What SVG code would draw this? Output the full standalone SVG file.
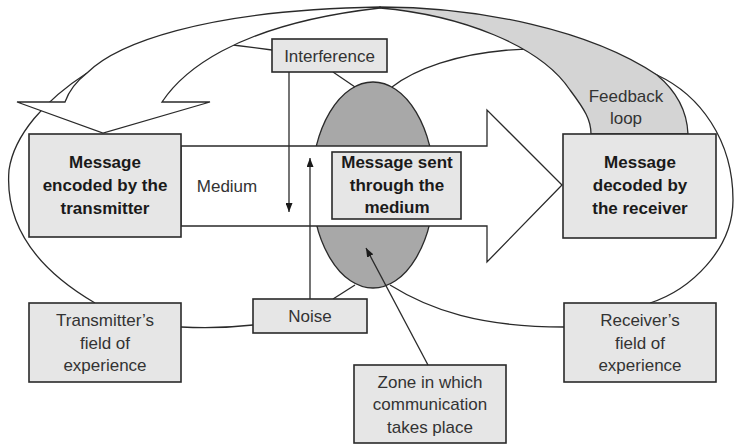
<svg xmlns="http://www.w3.org/2000/svg" width="735" height="444" viewBox="0 0 735 444">
<style>
.ln{fill:none;stroke:#2a2a2a;stroke-width:1.3}
.box{fill:#e6e6e6;stroke:#2a2a2a;stroke-width:1.6}
.t{font-family:"Liberation Sans",Arial,Helvetica,sans-serif;font-size:17px;fill:#333;text-anchor:middle}
.b{font-family:"Liberation Sans",Arial,Helvetica,sans-serif;font-size:17px;font-weight:bold;fill:#1a1a1a;text-anchor:middle}
</style>
<defs>
<marker id="ah" viewBox="0 0 9 7" refX="9" refY="3.5" markerWidth="9" markerHeight="7" markerUnits="userSpaceOnUse" orient="auto">
<path d="M0,0 L9,3.5 L0,7 Z" fill="#1a1a1a"/>
</marker>
</defs>
<g id="zone-ellipse">
<ellipse cx="373" cy="185" rx="61" ry="103" fill="#a8a8a8" stroke="#2a2a2a" stroke-width="1.3"/>
</g>
<g id="fields">
<path class="ln" d="M95,303 C30,265 5,220 9,170 C14,135 45,100 87,73"/>
<path class="ln" d="M392,87 C440,50 560,30 657,75 C700,95 733,140 733,200 C733,250 690,290 650,303"/>
<path class="ln" d="M390,285 C430,310 480,327 564,327"/>
<path class="ln" d="M181,327 C215,329 235,327 253,325"/>
<path class="ln" d="M333,299 L355,285"/>
<path class="ln" d="M333,72 L355,87"/>
<path class="ln" d="M233,45 L272,50"/>
</g>
<g id="feedback-loop">
<path d="M380,7 C480,7 590,30 657,75 C675,90 687,110 688,134 L591,134 C591,120 585,110 570,90 C540,45 460,15 380,8 Z" fill="#d4d4d4" stroke="#2a2a2a" stroke-width="1.3"/>
<path d="M380,7 C200,10 115,45 87,73 C78,80 70,88 65,102 L17,102 L103,133 L210,102 L162,102 C180,75 230,25 380,8 Z" fill="#fff" stroke="#2a2a2a" stroke-width="1.3"/>
</g>
<g id="medium-arrow">
<path d="M181,146 L487,146 L487,110 L562,185 L487,262 L487,226 L181,226 Z" fill="#fff" stroke="#2a2a2a" stroke-width="1.3"/>
<text class="t" x="227" y="192">Medium</text>
</g>
<g id="encoder">
<rect class="box" x="29" y="134" width="152" height="103"/>
<text class="b" x="105" y="168">Message</text>
<text class="b" x="105" y="191">encoded by the</text>
<text class="b" x="105" y="213.5">transmitter</text>
</g>
<g id="channel">
<rect class="box" x="332" y="152" width="129" height="67" stroke-width="2.5"/>
<text class="b" x="397" y="168">Message sent</text>
<text class="b" x="397" y="190.5">through the</text>
<text class="b" x="397" y="213">medium</text>
</g>
<g id="decoder">
<rect class="box" x="563" y="134" width="153" height="104"/>
<text class="b" x="640" y="168">Message</text>
<text class="b" x="640" y="191">decoded by</text>
<text class="b" x="640" y="213.5">the receiver</text>
</g>
<g id="interference">
<rect class="box" x="272" y="39" width="115" height="33" stroke-width="2"/>
<text class="t" x="329.5" y="62">Interference</text>
</g>
<g id="noise">
<rect class="box" x="253" y="299" width="114" height="34" stroke-width="2"/>
<text class="t" x="310" y="322">Noise</text>
</g>
<g id="transmitter-field">
<rect class="box" x="29" y="303" width="152" height="79"/>
<text class="t" x="105" y="326">Transmitter’s</text>
<text class="t" x="105" y="348.5">field of</text>
<text class="t" x="105" y="371">experience</text>
</g>
<g id="receiver-field">
<rect class="box" x="564" y="303" width="152" height="79"/>
<text class="t" x="640" y="326">Receiver’s</text>
<text class="t" x="640" y="348.5">field of</text>
<text class="t" x="640" y="371">experience</text>
</g>
<g id="zone-label">
<rect class="box" x="354" y="365" width="152" height="78"/>
<text class="t" x="430" y="388">Zone in which</text>
<text class="t" x="430" y="410">communication</text>
<text class="t" x="430" y="432.5">takes place</text>
</g>
<g id="feedback-label">
<text class="t" x="626" y="101.5">Feedback</text>
<text class="t" x="626" y="124">loop</text>
</g>
<g id="connectors">
<path class="ln" stroke-width="1.5" d="M289,72 L289,212" marker-end="url(#ah)"/>
<path class="ln" stroke-width="1.5" d="M310,299 L310,158" marker-end="url(#ah)"/>
<path class="ln" stroke-width="1.5" d="M428,365 L366,248" marker-end="url(#ah)"/>
</g>
</svg>
